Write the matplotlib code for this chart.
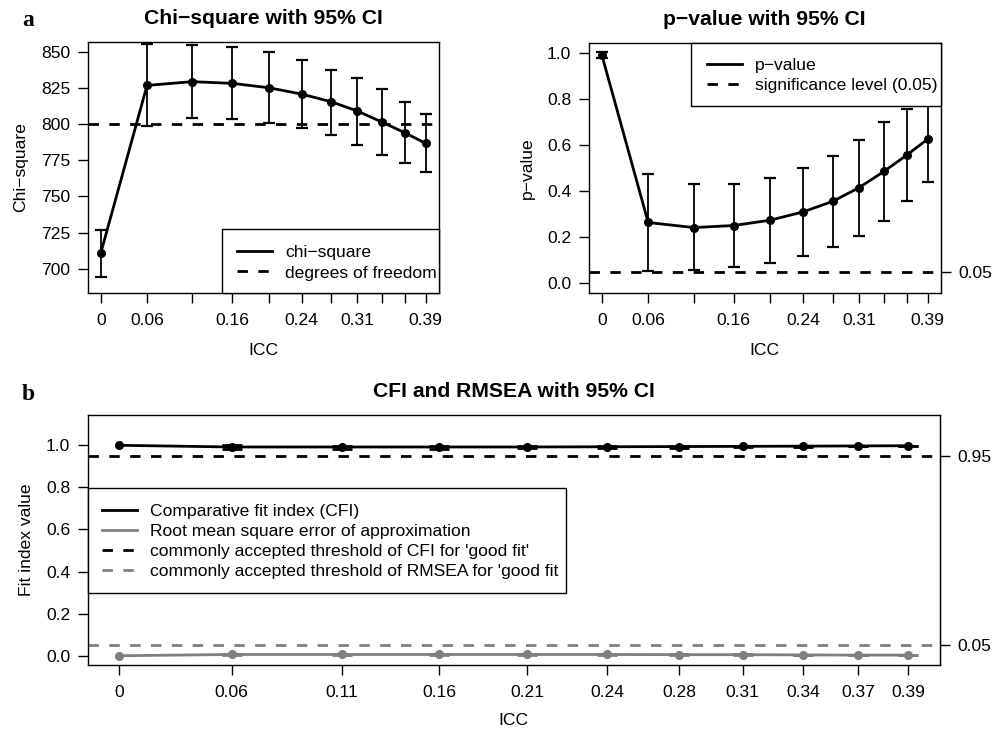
import matplotlib
matplotlib.use("Agg")
import matplotlib.pyplot as plt
from matplotlib.lines import Line2D
from matplotlib.patches import Rectangle
import numpy as np

plt.rcParams['font.family'] = ['Liberation Sans', 'DejaVu Sans']
plt.rcParams['lines.scale_dashes'] = False

# ---------------- data ----------------
icc = [0, 0.0556, 0.110, 0.158, 0.2016, 0.241, 0.2767, 0.308, 0.338, 0.365, 0.39]
icc_labels = ['0', '0.06', '0.11', '0.16', '0.21', '0.24', '0.28', '0.31', '0.34', '0.37', '0.39']
icc_labels_top = ['0', '0.06', '', '0.16', '', '0.24', '', '0.31', '', '', '0.39']

chi = [710.6, 826.7, 829.3, 828.1, 825.1, 820.7, 815.4, 809.0, 801.2, 794.0, 786.6]
chi_lo = [694.5, 798.6, 803.9, 803.2, 800.5, 797.2, 792.4, 785.7, 778.3, 772.8, 766.6]
chi_hi = [726.7, 855.1, 854.6, 853.0, 849.5, 844.2, 837.6, 831.6, 824.0, 815.0, 806.7]
dof = 800

pval = [0.991, 0.264, 0.242, 0.251, 0.274, 0.310, 0.356, 0.415, 0.486, 0.556, 0.625]
pval_lo = [0.977, 0.052, 0.059, 0.071, 0.088, 0.117, 0.160, 0.207, 0.271, 0.356, 0.441]
pval_hi = [1.003, 0.475, 0.431, 0.432, 0.457, 0.500, 0.552, 0.621, 0.699, 0.756, 0.800]
sig = 0.05

cfi = [1.000, 0.992, 0.992, 0.992, 0.992, 0.993, 0.994, 0.995, 0.996, 0.997, 0.998]
cfi_lo = [1.000, 0.983, 0.984, 0.984, 0.985, 0.986, 0.988, 0.990, 0.992, 0.995, 0.997]
cfi_hi = [1.000, 1.000, 0.999, 0.999, 0.999, 0.999, 0.999, 0.999, 0.999, 0.999, 0.999]
rmsea = [0.000, 0.006, 0.006, 0.006, 0.006, 0.006, 0.005, 0.005, 0.004, 0.003, 0.003]
rmsea_lo = [0.000, 0.005, 0.005, 0.005, 0.005, 0.005, 0.004, 0.004, 0.003, 0.002, 0.002]
rmsea_hi = [0.000, 0.007, 0.007, 0.007, 0.007, 0.007, 0.006, 0.006, 0.005, 0.004, 0.004]
cfi_thr = 0.95
rmsea_thr = 0.05

# ---------------- figure ----------------
W, H = 998, 732
fig = plt.figure(figsize=(W / 100, H / 100), dpi=100)


def add_ax(x0, x1, y0, y1):
    return fig.add_axes([x0 / W, 1 - y1 / H, (x1 - x0) / W, (y1 - y0) / H])


DASH = (0, (7.5, 7.5))
FS = 12.6
TFS = 15.2
LW = 2.0
GRAY = '#7f7f7f'


def style(ax):
    for s in ax.spines.values():
        s.set_linewidth(1.0)
        s.set_color('black')
    ax.tick_params(direction='out', length=7.5, width=1.0, labelsize=FS, pad=5, colors='black')
    ax.tick_params(axis='x', pad=7)


def ci_plot(ax, x, y, lo, hi, color, capsize, ms=5.5, capthick=1.6):
    x = np.asarray(x); y = np.asarray(y); lo = np.asarray(lo); hi = np.asarray(hi)
    ax.plot(x, y, color=color, lw=LW, marker='o', ms=ms, zorder=3)
    m = hi > lo
    ax.errorbar(x[m], y[m], yerr=[y[m] - lo[m], hi[m] - y[m]], fmt='none', ecolor=color,
                elinewidth=1.3, capsize=capsize, capthick=capthick, zorder=2)


def boxed_legend(ax, handles, labels, box, hx, yc1):
    # box: (x0, x1, y0, y1) in figure pixels (from top-left)
    x0, x1, y0, y1 = box
    rect = Rectangle((x0 / W, 1 - y1 / H), (x1 - x0) / W, (y1 - y0) / H,
                     transform=fig.transFigure, facecolor='white', edgecolor='black',
                     lw=1.0, zorder=4, clip_on=False)
    ax.add_patch(rect)
    leg = ax.legend(handles, labels, loc='upper left',
                    bbox_to_anchor=(hx / W, 1 - (yc1 - 5.5) / H),
                    bbox_transform=fig.transFigure, borderaxespad=0, borderpad=0,
                    fontsize=FS, frameon=False, handlelength=2.0, handletextpad=0.75,
                    labelspacing=0.28)
    leg.set_zorder(5)
    return leg


# ---- panel a, left ----
ax1 = add_ax(87.7, 438.7, 42.3, 292.7)
style(ax1)
ci_plot(ax1, icc, chi, chi_lo, chi_hi, 'black', 4.0)
ax1.axhline(dof, color='black', lw=LW, linestyle=DASH, zorder=1)
ax1.set_xlim(-0.0156, 0.4056)
ax1.set_ylim(683.4, 856.5)
ax1.set_yticks([700, 725, 750, 775, 800, 825, 850])
ax1.set_xticks(icc)
ax1.set_xticklabels(icc_labels_top)
ax1.set_xlabel('ICC', fontsize=FS, labelpad=11)
ax1.set_ylabel('Chi\u2212square', fontsize=FS, labelpad=9)
ax1.set_title('Chi\u2212square with 95% CI', fontsize=TFS, fontweight='bold', pad=13)
h1 = [Line2D([], [], color='black', lw=LW), Line2D([], [], color='black', lw=LW, linestyle=DASH)]
boxed_legend(ax1, h1, ['chi\u2212square', 'degrees of freedom'],
             (222, 438.7, 229.3, 292.7), 237, 250.7)

# ---- panel a, right ----
ax2 = add_ax(588.7, 940.7, 43.3, 292.7)
style(ax2)
ci_plot(ax2, icc, pval, pval_lo, pval_hi, 'black', 4.0)
ax2.axhline(sig, color='black', lw=LW, linestyle=DASH, zorder=1)
ax2.set_xlim(-0.0156, 0.4056)
ax2.set_ylim(-0.04, 1.04)
ax2.set_yticks([0.0, 0.2, 0.4, 0.6, 0.8, 1.0])
ax2.set_yticklabels(['0.0', '0.2', '0.4', '0.6', '0.8', '1.0'])
ax2.set_xticks(icc)
ax2.set_xticklabels(icc_labels_top)
ax2.set_xlabel('ICC', fontsize=FS, labelpad=11)
ax2.set_ylabel('p\u2212value', fontsize=FS, labelpad=9)
ax2.set_title('p\u2212value with 95% CI', fontsize=TFS, fontweight='bold', pad=13)
sec2 = ax2.secondary_yaxis('right')
sec2.set_yticks([sig])
sec2.set_yticklabels(['0.05'])
sec2.tick_params(direction='out', length=7.5, width=1.0, labelsize=FS, pad=5)
h2 = [Line2D([], [], color='black', lw=LW), Line2D([], [], color='black', lw=LW, linestyle=DASH)]
boxed_legend(ax2, h2, ['p\u2212value', 'significance level (0.05)'],
             (691, 940.7, 43.3, 105.7), 706.7, 63.3)

# ---- panel b ----
ax3 = add_ax(87.7, 940, 415, 665)
style(ax3)
ci_plot(ax3, icc, cfi, cfi_lo, cfi_hi, 'black', 7.2, capthick=2.0)
ci_plot(ax3, icc, rmsea, rmsea_lo, rmsea_hi, GRAY, 7.2, capthick=2.0)
ax3.axhline(cfi_thr, color='black', lw=LW, linestyle=DASH, zorder=1)
ax3.axhline(rmsea_thr, color=GRAY, lw=LW, linestyle=DASH, zorder=1)
ax3.set_xlim(-0.0156, 0.4056)
ax3.set_ylim(-0.044, 1.144)
ax3.set_yticks([0.0, 0.2, 0.4, 0.6, 0.8, 1.0])
ax3.set_yticklabels(['0.0', '0.2', '0.4', '0.6', '0.8', '1.0'])
ax3.set_xticks(icc)
ax3.set_xticklabels(icc_labels)
ax3.set_xlabel('ICC', fontsize=FS, labelpad=9)
ax3.set_ylabel('Fit index value', fontsize=FS, labelpad=9)
ax3.set_title('CFI and RMSEA with 95% CI', fontsize=TFS, fontweight='bold', pad=13)
sec3 = ax3.secondary_yaxis('right')
sec3.set_yticks([rmsea_thr, cfi_thr])
sec3.set_yticklabels(['0.05', '0.95'])
sec3.tick_params(direction='out', length=7.5, width=1.0, labelsize=FS, pad=5)
h3 = [Line2D([], [], color='black', lw=LW), Line2D([], [], color=GRAY, lw=LW),
      Line2D([], [], color='black', lw=LW, linestyle=DASH),
      Line2D([], [], color=GRAY, lw=LW, linestyle=DASH)]
lab3 = ['Comparative fit index (CFI)', 'Root mean square error of approximation',
        "commonly accepted threshold of CFI for 'good fit'",
        "commonly accepted threshold of RMSEA for 'good fit"]
boxed_legend(ax3, h3, lab3, (87.7, 565.7, 487.7, 593.3), 102.3, 509)

# panel letters
fig.text(22 / W, 1 - 20 / H, 'a', fontsize=17, fontweight='bold', family='Liberation Serif',
         ha='left', va='center')
fig.text(22 / W, 1 - 395 / H, 'b', fontsize=17, fontweight='bold', family='Liberation Serif',
         ha='left', va='center')

fig.savefig('out.png', dpi=100)
